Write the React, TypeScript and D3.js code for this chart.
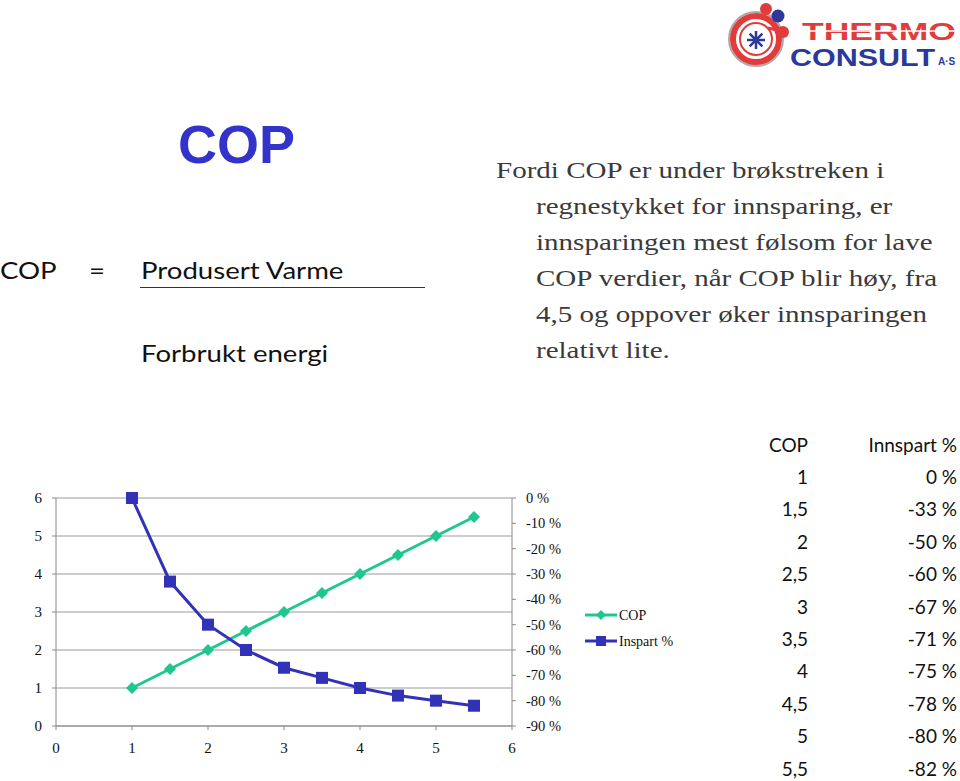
import React from "react";
import * as d3 from "d3";

const copValues = [1, 1.5, 2, 2.5, 3, 3.5, 4, 4.5, 5, 5.5];
const inspartValues = [0, -33, -50, -60, -67, -71, -75, -78, -80, -82];
const tableCop = ["1", "1,5", "2", "2,5", "3", "3,5", "4", "4,5", "5", "5,5"];
const tableInspart = ["0 %", "-33 %", "-50 %", "-60 %", "-67 %", "-71 %", "-75 %", "-78 %", "-80 %", "-82 %"];
const xTicks = [0, 1, 2, 3, 4, 5, 6];
const yTicks = [0, 1, 2, 3, 4, 5, 6];
const pctTicks = [0, -10, -20, -30, -40, -50, -60, -70, -80, -90];
const paragraph = [
  "Fordi COP er under brøkstreken i",
  "regnestykket for innsparing, er",
  "innsparingen mest følsom for lave",
  "COP verdier, når COP blir høy, fra",
  "4,5 og oppover øker innsparingen",
  "relativt lite.",
];

const GREEN = "#1fc78f";
const BLUE = "#3232b8";
const SERIF = "'Liberation Serif', 'Times New Roman', serif";
const SANS = "Lato, 'Open Sans', sans-serif";
const ARIAL = "'Liberation Sans', Arial, sans-serif";

export default function App() {
  const x = d3.scaleLinear().domain([0, 6]).range([56, 512]);
  const y = d3.scaleLinear().domain([0, 6]).range([726, 498]);
  const yPct = d3.scaleLinear().domain([-90, 0]).range([726, 498]);

  const copLine = d3.line<number>().x((d) => x(d)).y((d) => y(d));
  const insLine = d3
    .line<number>()
    .x((_, i) => x(copValues[i]))
    .y((d) => yPct(d));

  const diamond = (cx: number, cy: number, r: number) =>
    `M${cx},${cy - r}L${cx + r},${cy}L${cx},${cy + r}L${cx - r},${cy}Z`;

  const pScale = 1.21;
  const fScale = 1.2;

  return (
    <svg width={960} height={781} style={{ position: "absolute", left: 0, top: 0, background: "#fff" }}>
      {/* Logo */}
      <g>
        <line x1={756} y1={40} x2={781} y2={14} stroke="#e23b3b" strokeWidth={5} />
        <circle cx={756} cy={39} r={27} fill="#fff" stroke="#aaa" strokeWidth={2} />
        <circle cx={756} cy={39} r={23} fill="none" stroke="#e23b3b" strokeWidth={6} />
        <circle cx={756} cy={39} r={16} fill="none" stroke="#e23b3b" strokeWidth={2} />
        {d3.range(8).map((i) => {
          const a = (i * Math.PI) / 4;
          return (
            <line key={i} x1={756} y1={40} x2={756 + 9 * Math.cos(a)} y2={40 + 9 * Math.sin(a)} stroke="#2b3a9a" strokeWidth={2.5} />
          );
        })}
        <line x1={768} y1={28} x2={786} y2={32} stroke="#e23b3b" strokeWidth={3} />
        <circle cx={766} cy={9} r={6} fill="#e23b3b" />
        <circle cx={778} cy={16} r={6.5} fill="#2b3a9a" />
        <circle cx={783} cy={32} r={6} fill="#e23b3b" />
        <text x={802} y={40} fontFamily={ARIAL} fontWeight="bold" fontSize={23} fill="#e23b3b" textLength={154} lengthAdjust="spacingAndGlyphs">THERMO</text>
        <line x1={802} x2={956} y1={31} y2={31} stroke="#fff" strokeWidth={1.5} />
        <text x={790} y={66} fontFamily={ARIAL} fontWeight="bold" fontSize={23} fill="#2b3a9a" textLength={145} lengthAdjust="spacingAndGlyphs">CONSULT</text>
        <text x={938} y={65} fontFamily={ARIAL} fontWeight="bold" fontSize={10} fill="#2b3a9a">A·S</text>
      </g>

      {/* Title */}
      <text x={178} y={163} fontFamily={ARIAL} fontWeight="bold" fontSize={54} fill="#3333cc">COP</text>

      {/* Formula */}
      <g transform={`scale(${fScale},1)`}>
        <text x={0} y={279} fontFamily={SANS} fontSize={23} fill="#111">COP</text>
        <text x={89 / fScale} y={279} fontFamily={SANS} fontSize={23} fill="#111">=</text>
        <text x={141 / fScale} y={279} fontFamily={SANS} fontSize={23} fill="#111">Produsert Varme</text>
        <text x={141 / fScale} y={362} fontFamily={SANS} fontSize={23} fill="#111">Forbrukt energi</text>
      </g>
      <line x1={140} x2={425} y1={287.5} y2={287.5} stroke="#333" strokeWidth={1} />

      {/* Paragraph */}
      <g transform={`translate(496,0) scale(${pScale},1)`}>
        {paragraph.map((t, i) => (
          <text key={i} x={i === 0 ? 0 : 40 / pScale} y={178 + i * 36} fontFamily={SERIF} fontSize={24} fill="#3a3a3a">
            {t}
          </text>
        ))}
      </g>

      {/* Chart gridlines */}
      {yTicks.map((t) => (
        <line key={"g" + t} x1={x(0)} x2={x(6)} y1={y(t)} y2={y(t)} stroke="#9a9a9a" strokeWidth={1} />
      ))}
      {/* Axes */}
      <line x1={x(0)} x2={x(0)} y1={y(0)} y2={y(6)} stroke="#888" />
      <line x1={x(6)} x2={x(6)} y1={y(0)} y2={y(6)} stroke="#888" />
      <line x1={x(0)} x2={x(6)} y1={y(0)} y2={y(0)} stroke="#888" />
      {yTicks.map((t) => (
        <g key={"yl" + t}>
          <line x1={x(0) - 4} x2={x(0)} y1={y(t)} y2={y(t)} stroke="#888" />
          <text x={42} y={y(t) + 5} textAnchor="end" fontFamily={SERIF} fontSize={15} fill="#111">{t}</text>
        </g>
      ))}
      {xTicks.map((t) => (
        <g key={"xl" + t}>
          <line x1={x(t)} x2={x(t)} y1={y(0)} y2={y(0) + 4} stroke="#888" />
          <text x={x(t)} y={753} textAnchor="middle" fontFamily={SERIF} fontSize={15} fill="#111">{t}</text>
        </g>
      ))}
      {pctTicks.map((t) => (
        <g key={"pl" + t}>
          <line x1={x(6)} x2={x(6) + 4} y1={yPct(t)} y2={yPct(t)} stroke="#888" />
          <text x={526} y={yPct(t) + 5} fontFamily={SERIF} fontSize={14.5} fill="#111">{`${t} %`}</text>
        </g>
      ))}

      {/* Series */}
      <path d={copLine(copValues) || ""} fill="none" stroke={GREEN} strokeWidth={3} />
      {copValues.map((v, i) => (
        <path key={"d" + i} d={diamond(x(copValues[i]), y(v), 6)} fill={GREEN} />
      ))}
      <path d={insLine(inspartValues) || ""} fill="none" stroke={BLUE} strokeWidth={3} />
      {inspartValues.map((v, i) => (
        <rect key={"s" + i} x={x(copValues[i]) - 6} y={yPct(v) - 6} width={12} height={12} fill={BLUE} />
      ))}

      {/* Legend */}
      <line x1={585} x2={617} y1={615} y2={615} stroke={GREEN} strokeWidth={3} />
      <path d={diamond(601, 615, 5)} fill={GREEN} />
      <text x={619} y={620} fontFamily={SERIF} fontSize={14} fill="#111">COP</text>
      <line x1={585} x2={617} y1={641} y2={641} stroke={BLUE} strokeWidth={3} />
      <rect x={596} y={636} width={10} height={10} fill={BLUE} />
      <text x={619} y={646} fontFamily={SERIF} fontSize={14} fill="#111">Inspart %</text>

      {/* Table */}
      <text x={808} y={452} textAnchor="end" fontFamily={SANS} fontSize={19} fill="#111">COP</text>
      <text x={957} y={452} textAnchor="end" fontFamily={SANS} fontSize={19} fill="#111">Innspart %</text>
      {tableCop.map((c, i) => (
        <g key={"t" + i}>
          <text x={808} y={484 + i * 32.4} textAnchor="end" fontFamily={SANS} fontSize={19} fill="#111">{c}</text>
          <text x={957} y={484 + i * 32.4} textAnchor="end" fontFamily={SANS} fontSize={19} fill="#111">{tableInspart[i]}</text>
        </g>
      ))}
    </svg>
  );
}
